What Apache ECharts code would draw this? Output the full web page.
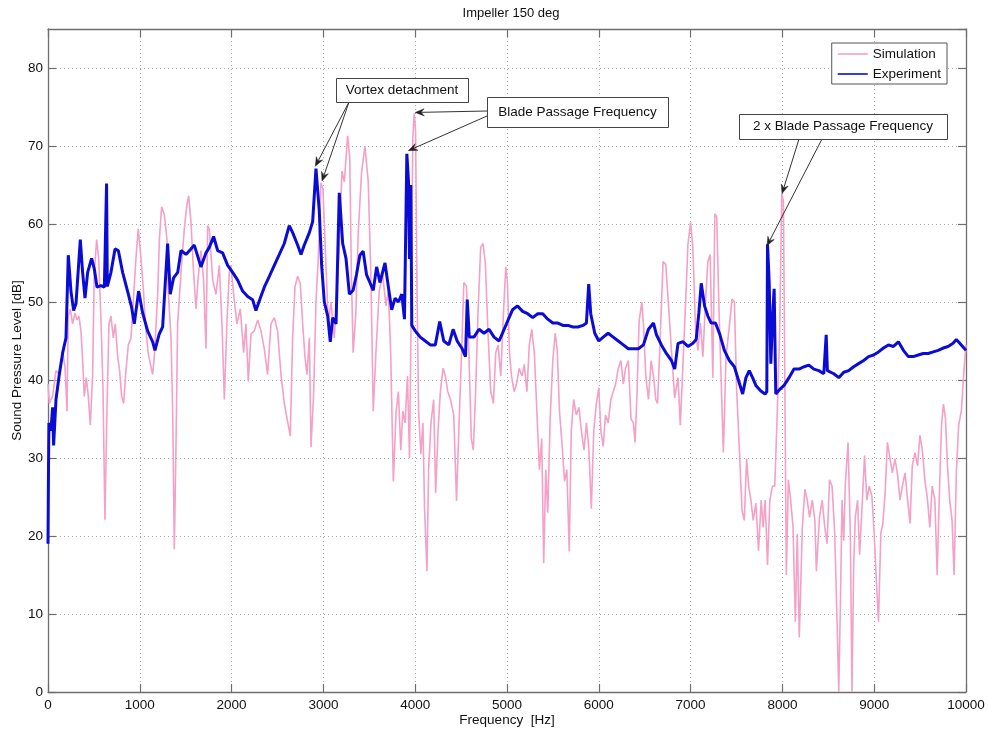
<!DOCTYPE html>
<html>
<head>
<meta charset="utf-8">
<script src="https://cdn.jsdelivr.net/npm/echarts@6/dist/echarts.min.js"></script>
<style>
html,body{margin:0;padding:0;background:#fff;}
#chart{width:988px;height:731px;}
</style>
</head>
<body>
<div id="chart"></div>
<script>
// ---- Data ----
const xTicks = [0,1000,2000,3000,4000,5000,6000,7000,8000,9000,10000];
const yTicks = [0,10,20,30,40,50,60,70,80];

const expFreq = [0,5,10,32,50,61,87,123,160,196,221,250,279,305,352,377,403,432,475,505,534,577,614,630,638,646,686,730,766,813,875,911,940,987,1031,1085,1140,1165,1212,1249,1303,1332,1368,1413,1449,1503,1557,1594,1666,1721,1757,1804,1848,1902,1957,2011,2066,2120,2175,2229,2265,2313,2356,2411,2465,2520,2574,2628,2665,2719,2756,2792,2847,2883,2919,2955,2981,3010,3047,3075,3101,3138,3173,3210,3246,3283,3324,3360,3397,3433,3470,3506,3543,3580,3616,3671,3707,3744,3781,3817,3854,3883,3900,3909,3927,3938,3952,3963,4000,4055,4110,4165,4219,4267,4311,4366,4413,4457,4512,4548,4567,4589,4640,4695,4750,4804,4859,4914,4951,5005,5060,5115,5170,5225,5280,5335,5389,5444,5499,5554,5609,5664,5718,5773,5828,5865,5890,5912,5956,6000,6048,6102,6157,6212,6267,6322,6377,6431,6486,6541,6596,6628,6682,6736,6791,6827,6863,6917,6971,7025,7061,7090,7116,7152,7188,7224,7271,7314,7368,7422,7477,7523,7567,7603,7639,7675,7711,7765,7812,7830,7838,7856,7874,7892,7910,7928,7971,8018,8072,8126,8180,8235,8289,8343,8397,8451,8470,8477,8490,8505,8560,8614,8668,8722,8776,8830,8885,8939,8993,9047,9101,9155,9209,9264,9318,9372,9426,9480,9534,9588,9643,9697,9751,9805,9859,9895,9949,10000];
const expSpl = [19,28,34.5,33.5,36.5,31.6,37.5,40.7,43.5,45.4,56,51.4,48.9,49.8,58,53.8,50.5,53.8,55.6,54.2,51.9,52.1,51.9,52,65.2,52,53.8,56.8,56.6,53.8,51,49.3,47.2,51.4,48.6,46.3,44.9,43.8,45.9,46.8,57.5,51,53.1,53.8,56.6,56.1,56.8,57.3,54.5,56.3,57,58.4,56.6,56.3,54.7,53.8,52.8,51.4,50.7,50.3,48.9,50.5,51.9,53.3,54.7,56.1,57.5,59.8,58.9,57.3,56.1,57.3,58.9,60.3,67.1,61.7,54.7,50,48.2,44.9,48,47.2,64,57.5,55.6,51,51.5,53.5,56,56.5,53.5,52.5,51.5,54.5,52.5,55,52,49,50.5,50,51,47.8,48,69,65.5,55.5,65,47,46.3,45.5,45,44.5,44.5,47.5,45,44.5,46.5,45,44,43,50.3,45.5,45.5,46.5,46,46.5,45.5,45,46,47.5,49,49.5,48.8,48.5,48,48.5,48.5,47.8,47.3,47.3,47,47,46.8,46.8,47,47.3,52.3,48.5,46,45,45.5,46,45.5,45,44.5,44,44,44,44.5,46.5,47.3,45.8,44.5,43.4,42.5,41.4,44.7,44.9,44.3,44.7,45.2,48.6,52.4,49.5,48.2,47.3,47.3,46,43.8,42.5,41.7,39.9,38.2,40.3,41.2,40.3,39.3,38.6,38.2,38.5,57.4,52.6,42.1,47.8,51.7,38.2,38.8,39.3,40.3,41.4,41.4,41.7,41.9,41.4,41.2,40.8,41,45.8,41.2,41,40.8,40.3,41,41.2,41.7,42.1,42.5,43,43.2,43.6,44.1,44.5,44.3,44.9,43.8,43,43,43.2,43.4,43.4,43.6,43.8,44.1,44.3,44.7,45.2,44.5,43.8];

const simFreq = [0,14,50,87,123,160,185,207,221,243,268,294,316,337,359,377,395,417,439,461,486,504,530,552,577,599,620,642,664,686,711,733,759,780,802,824,849,875,904,929,958,983,1013,1040,1061,1090,1140,1158,1195,1213,1238,1267,1296,1310,1340,1358,1376,1394,1412,1449,1485,1514,1532,1557,1586,1612,1637,1666,1695,1721,1739,1757,1794,1830,1866,1895,1921,1950,1975,1993,2022,2058,2095,2131,2156,2182,2211,2247,2284,2320,2356,2392,2429,2465,2501,2538,2574,2610,2639,2665,2690,2719,2748,2774,2799,2821,2847,2865,2894,2919,2944,2973,2995,3028,3054,3083,3119,3148,3173,3202,3228,3264,3287,3305,3324,3353,3378,3415,3452,3488,3517,3543,3572,3609,3645,3682,3708,3733,3762,3792,3817,3843,3865,3890,3916,3938,3956,3974,3989,4004,4018,4037,4062,4084,4102,4128,4146,4172,4201,4223,4249,4274,4303,4329,4355,4384,4420,4450,4475,4505,4530,4559,4585,4611,4633,4658,4684,4713,4739,4764,4793,4823,4852,4877,4903,4932,4961,4987,5005,5027,5049,5078,5104,5133,5163,5188,5217,5243,5269,5298,5327,5353,5378,5400,5422,5444,5470,5499,5525,5546,5572,5598,5627,5652,5678,5700,5726,5755,5784,5810,5839,5865,5890,5919,5945,5974,6000,6022,6048,6073,6102,6131,6157,6183,6212,6241,6267,6292,6322,6351,6377,6395,6417,6439,6468,6490,6512,6541,6570,6596,6621,6640,6664,6700,6729,6765,6791,6827,6863,6888,6917,6946,6971,7000,7025,7054,7079,7108,7134,7162,7188,7213,7242,7264,7285,7307,7332,7357,7386,7422,7451,7477,7502,7531,7560,7585,7610,7632,7657,7682,7711,7740,7769,7790,7812,7838,7863,7892,7917,7942,7971,7993,8011,8025,8043,8065,8090,8116,8141,8162,8184,8217,8245,8271,8296,8325,8354,8370,8404,8433,8462,8487,8513,8541,8570,8595,8614,8632,8650,8668,8686,8715,8740,8758,8776,8794,8819,8841,8866,8895,8920,8946,8975,9000,9022,9047,9072,9094,9119,9144,9173,9198,9227,9256,9281,9307,9336,9364,9390,9415,9444,9473,9498,9523,9552,9581,9606,9632,9661,9686,9708,9733,9754,9776,9798,9823,9848,9870,9895,9920,9949,9978,10000];
const simSpl = [39.5,37,37.9,41.2,40.7,43.5,41.7,36,48.2,49.1,47.2,48.6,47.7,48.2,46.3,42.6,37.9,40.3,37.9,34.2,40.7,53.8,58,55.6,47.7,38.9,22.1,36,47.2,48.2,45.4,47.2,43,41.2,37.9,37,41.2,44.5,45.4,50,55.6,59.4,55.6,51.5,47.2,43.5,40.7,43,51,58,62.2,61.2,58,51.4,45.4,36,18.3,31.4,47.2,53.8,59.4,62.6,63.6,60.3,53.8,49.1,53.3,56.6,52.8,44,59.8,59.4,52.8,51,54.7,47.2,37.5,47.7,53.8,54.7,51,47.2,49.1,43.5,47.2,39.8,45.9,46.3,47.7,46.3,44,40.7,47.2,48,46.3,40.7,37,34.7,32.8,45.4,51.9,53.3,52.4,47.2,43,40.7,45.4,31.4,38.4,50,55.6,65.3,64.5,54.7,47.2,50,45.4,51.4,57,66.8,65.4,71.3,68.5,53.5,43.5,48.5,58.5,66.5,70,65.5,53.5,36,43.5,51.5,53.5,49.5,51.5,43.5,27,36,38.5,31,36,34.5,40.5,30,48.5,71,74.2,72,53.5,36,30.5,34.5,23.5,15.5,28.5,34.5,37.5,25.5,33.5,38.5,41.5,40.5,38.5,37.5,35.5,24.5,33.5,43.5,52.5,52,43.5,32.5,31,38.5,48.5,57,57.5,55,46,38.5,37,43.5,44.5,40.5,48.5,54.5,52.5,43.5,40.5,38.5,39.5,41.5,40.5,42,38.5,44.5,46.5,43.5,35.5,28.5,32.5,16.5,28.5,23,35,42.5,46,44,36,32,27,28.5,18,33.5,37.5,35.5,36.5,33.5,31,34.5,31.5,23.5,33.5,37,39,33.5,31.5,35.5,34.5,37.5,38.5,39.5,41.5,42.5,39.5,41.5,42.5,35,34.5,32,38.5,47.5,50,46.5,40.5,37.5,42.5,40.5,37.5,37,43.8,55.2,54.8,48.6,43.8,37.7,40.3,34.2,42.1,50,57.4,60.2,56.9,46.5,43.8,47.3,43,50,55.2,56.1,40.3,61.3,60.9,50,40.3,30.7,43,46.9,50.4,50,38.6,31.2,23.3,22,29.9,26.4,24.6,22,24.2,18.1,24.6,21.1,24.6,16.3,24.6,26.4,26.4,35.1,46.5,63.9,63,42.1,15,27.2,24.6,21.1,9,20.3,7,21.1,26,24.6,22.4,24.6,22,15.5,22.4,24.6,21.1,19,27.2,26.4,20.3,9.3,0,11.5,24.6,19.4,26.8,32,20.3,0,16,22.4,24.6,17.6,23.3,30.3,24.6,26.4,25.1,20.3,14.6,9,20.3,21.6,25.5,32,29.9,28.1,29.9,27.7,24.6,26.4,28.1,24.6,21.6,29,30.7,29,32.9,31.2,27.2,24.6,21.1,26.4,24.6,15,24.6,34.2,36.9,35.1,29,24.6,22,15,28.1,34.2,36,41.2,44.5];

// ---- Annotations: boxes in layout pixels, arrow tips at data points ----
const annotations = [
  {text:'Vortex detachment', box:[336,78,132,24], arrows:[{from:[349,102], to:[2912,67.4]},{from:[349,102], to:[2985,65.5]}]},
  {text:'Blade Passage Frequency', box:[487,97,181,30], arrows:[{from:[487,111], to:[4000,74.3]},{from:[487,116], to:[3925,69.4]}]},
  {text:'2 x Blade Passage Frequency', box:[739,114,208,25], arrows:[{from:[799,139], to:[7996,63.9]},{from:[822,139], to:[7832,57.2]}]}
];

const PINK = '#f5a0c6';
const BLUE = '#0b0bd6';
const AXIS = '#6e6e6e';
const FONT = '"Liberation Sans", Arial, Helvetica, sans-serif';

function zip(a,b){ return a.map((v,i)=>[v,b[i]]); }

const chart = echarts.init(document.getElementById('chart'), null, {renderer:'canvas'});

const gridLine = {show:true, lineStyle:{color:'#a8a8a8', width:1, type:[1,3]}};
const tick = {show:true, inside:true, length:8, lineStyle:{color:AXIS, width:1.2}};
const aLine = {show:true, onZero:false, lineStyle:{color:AXIS, width:1.3}};
const lbl = {color:'#111', fontSize:13.5, fontFamily:FONT};
const LEGEND_ICON = 'path://M0,0 L30,0 L30,1.6 L0,1.6 Z';

const option = {
  animation:false,
  backgroundColor:'#fff',
  title:{text:'Impeller 150 deg', left:506, textAlign:'center', top:2,
         textStyle:{fontSize:13, fontWeight:'normal', color:'#111', fontFamily:FONT}},
  legend:{
    data:[{name:'Simulation', icon:LEGEND_ICON},{name:'Experiment', icon:LEGEND_ICON}], orient:'vertical',
    right:41, top:43, backgroundColor:'#fff', borderColor:'#555', borderWidth:1,
    padding:[4,6,3,6], itemWidth:30, itemHeight:12, itemGap:6,
    textStyle:{fontSize:13.5, color:'#111', fontFamily:FONT}
  },
  grid:{left:48, right:22, top:29, bottom:39, containLabel:false, outerBoundsMode:'none'},
  xAxis:[
    {type:'value', min:0, max:10000, interval:1000, position:'bottom',
     name:'Frequency  [Hz]', nameLocation:'middle', nameGap:21, nameMoveOverlap:false,
     nameTextStyle:{fontSize:13.5, color:'#111', fontFamily:FONT},
     axisLine:aLine, axisTick:tick, splitLine:gridLine,
     axisLabel:Object.assign({margin:6, formatter:v=>xTicks.indexOf(v)>=0?String(v):''}, lbl)},
    {type:'value', min:0, max:10000, interval:1000, position:'top',
     axisLine:aLine, axisTick:tick, splitLine:{show:false}, axisLabel:{show:false}}
  ],
  yAxis:[
    {type:'value', min:0, max:85, interval:10, position:'left',
     name:'Sound Pressure Level [dB]', nameLocation:'middle', nameGap:24, nameRotate:90, nameMoveOverlap:false,
     nameTextStyle:{fontSize:13.5, color:'#111', fontFamily:FONT},
     axisLine:aLine, axisTick:tick, splitLine:gridLine,
     axisLabel:Object.assign({margin:5, showMaxLabel:false, formatter:v=>yTicks.indexOf(v)>=0?String(v):''}, lbl)},
    {type:'value', min:0, max:85, interval:10, position:'right',
     axisLine:aLine, axisTick:tick, splitLine:{show:false}, axisLabel:{show:false}}
  ],
  series:[
    {name:'Simulation', type:'line', data:zip(simFreq,simSpl), symbol:'none', showSymbol:false,
     xAxisIndex:0, yAxisIndex:0, lineStyle:{color:PINK, width:1.6}, itemStyle:{color:PINK}, z:2, clip:true},
    {name:'Experiment', type:'line', data:zip(expFreq,expSpl), symbol:'none', showSymbol:false,
     xAxisIndex:0, yAxisIndex:0, lineStyle:{color:BLUE, width:3}, itemStyle:{color:BLUE}, z:3, clip:true}
  ]
};
chart.setOption(option);

// Build annotation graphics (text boxes + arrows pointing at data peaks)
const g = [];
annotations.forEach(a=>{
  const [bx,by,bw,bh] = a.box;
  a.arrows.forEach(ar=>{
    const p1 = chart.convertToPixel({xAxisIndex:0, yAxisIndex:0}, ar.to);
    const p0 = ar.from;
    const dx = p1[0]-p0[0], dy = p1[1]-p0[1];
    const len = Math.sqrt(dx*dx+dy*dy);
    const ux = dx/len, uy = dy/len, nx = -uy, ny = ux;
    const L = 9, W = 3.6;
    const base = [p1[0]-ux*L, p1[1]-uy*L];
    g.push({type:'line', z:100, shape:{x1:p0[0], y1:p0[1], x2:base[0]+ux*3, y2:base[1]+uy*3},
            style:{stroke:'#333', lineWidth:1}});
    g.push({type:'polygon', z:101, shape:{points:[
      [p1[0],p1[1]],
      [base[0]+nx*W, base[1]+ny*W],
      [p1[0]-ux*L*0.65, p1[1]-uy*L*0.65],
      [base[0]-nx*W, base[1]-ny*W]
    ]}, style:{fill:'#222', stroke:'#222', lineWidth:0.5}});
  });
  g.push({type:'rect', z:102, shape:{x:bx+0.5, y:by+0.5, width:bw, height:bh},
          style:{fill:'#fff', stroke:'#444', lineWidth:1}});
  g.push({type:'text', z:103, x:bx+bw/2, y:by+bh/2,
          style:{text:a.text, fill:'#111', fontSize:13.5, fontFamily:FONT, align:'center', verticalAlign:'middle'}});
});
chart.setOption({graphic:{elements:g}});
</script>
</body>
</html>
